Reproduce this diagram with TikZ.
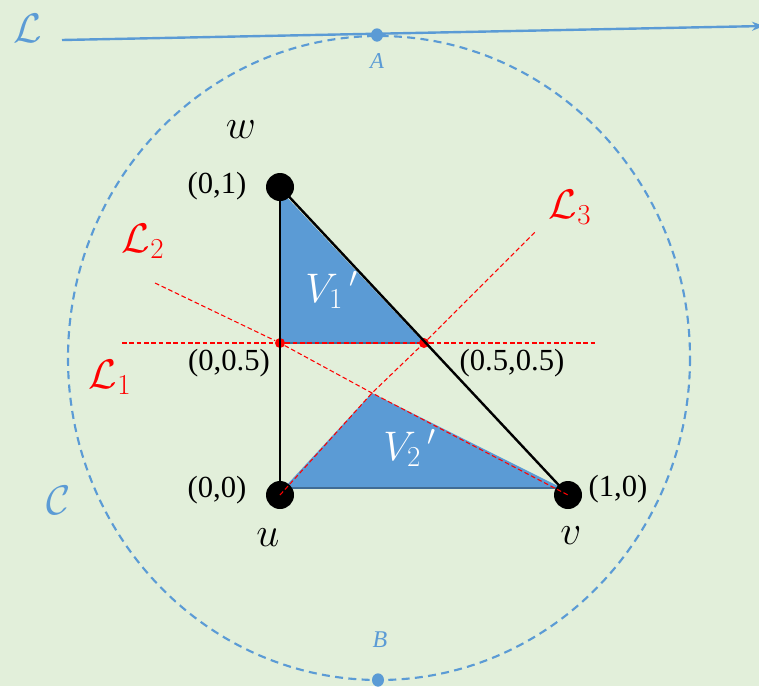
\documentclass[tikz,border=0pt]{standalone}
\usepackage{fix-cm}
\usepackage{amsmath,amssymb}
\usepackage{fontspec}
\setmainfont{Liberation Serif}
\usetikzlibrary{arrows.meta,positioning,shapes.geometric}
\definecolor{bgreen}{HTML}{E2EFDA}
\definecolor{fillblue}{HTML}{5B9BD5}
\definecolor{lineblue}{HTML}{5B9BD5}

\begin{document}
\begin{tikzpicture}[
  x=0.75pt, y=-0.75pt,
  font=\fontsize{23}{26}\selectfont,
  vdot/.style={circle, fill=black, inner sep=0pt, minimum size=21pt},
  rdot/.style={circle, fill=red, inner sep=0pt, minimum size=7.5pt},
  bdot/.style={ellipse, fill=lineblue, inner sep=0pt, minimum width=9pt, minimum height=10pt},
  redline/.style={red, line width=0.8pt, dash pattern=on 3.5pt off 2pt},
  edge/.style={black, line width=1.8pt},
  lbl/.style={inner sep=1pt},
  big/.style={font=\fontsize{31}{34}\selectfont}
]
  \fill[bgreen] (0,0) rectangle (759,686);
  \useasboundingbox (0,0) rectangle (759,686);

  % circle C and tangent line L
  \draw[lineblue, line width=1.6pt, dash pattern=on 6pt off 4pt] (379,358) ellipse [x radius=311, y radius=322];
  \coordinate (Lstart) at (62,40);
  \coordinate (Lend) at (764,26);
  \draw[lineblue, line width=1.8pt, -{Stealth[length=9pt]}] (Lstart) -- (Lend);
  \node[bdot] (A) at (377,35) {};
  \node[bdot] (B) at (378,680) {};
  \node[lineblue, font=\fontsize{17}{19}\selectfont\itshape] (Alab) at (377,61) {A};
  \node[lineblue, font=\fontsize{18}{20}\selectfont\itshape] (Blab) at (380,640) {B};
  \node[lineblue, big] (Llab) at (28,28) {$\mathcal{L}$};
  \node[lineblue, big] (Clab) at (59,500) {$\mathcal{C}$};

  % regions
  \fill[fillblue] (280,190) -- (280,343) -- (424,343) -- cycle;
  \fill[fillblue] (283,489) -- (372,393) -- (560,487) -- (566,490) -- (566,488) -- (280,488) -- cycle;
  \draw[fillblue!70!black, line width=1pt] (283,488) -- (560,488);
  \draw[fillblue!70!black, line width=0.8pt] (280,343) -- (424,343);

  % points
  \node[vdot] (w) at (280,187) {};
  \node[vdot] (u) at (280,495) {};
  \node[vdot] (v) at (568,495) {};
  \node[rdot] (m1) at (280,343) {};
  \node[rdot] (m2) at (424,343) {};
  \coordinate (p) at (372,393);

  % triangle
  \draw[edge] (w.center) -- (u.center);
  \draw[edge] (w.center) -- (v.center);

  % lines L1 L2 L3
  \coordinate (l1a) at (122,343);
  \coordinate (l1b) at (595,343);
  \coordinate (l2a) at (155,283);
  \coordinate (l3b) at (535,232);
  \draw[redline] (l1a) -- (m1) -- (m2) -- (l1b);
  \draw[redline] (l2a) -- (m1) -- (p) -- (v.center);
  \draw[redline] (u.center) -- (p) -- (m2) -- (l3b);

  % labels
  \node[lbl, big] (wl) at (241,130) {$w$};
  \node[lbl, big] (ul) at (268,538) {$u$};
  \node[lbl, big] (vl) at (571,536) {$v$};
  \node[lbl] (c01) at (217,186) {(0,1)};
  \node[lbl] (c005) at (229,363) {(0,0.5)};
  \node[lbl] (c0505) at (512,363) {(0.5,0.5)};
  \node[lbl] (c00) at (217,490) {(0,0)};
  \node[lbl] (c10) at (618,489) {(1,0)};
  \node[red, big] (L1) at (110,377) {$\mathcal{L}_1$};
  \node[red, big] (L2) at (143,241) {$\mathcal{L}_2$};
  \node[red, big] (L3) at (570,207) {$\mathcal{L}_3$};
  \node[white, big] (V1) at (332,290) {$V_1\,{}'$};
  \node[white, big] (V2) at (410,448) {$V_2\,{}'$};
\end{tikzpicture}
\end{document}
